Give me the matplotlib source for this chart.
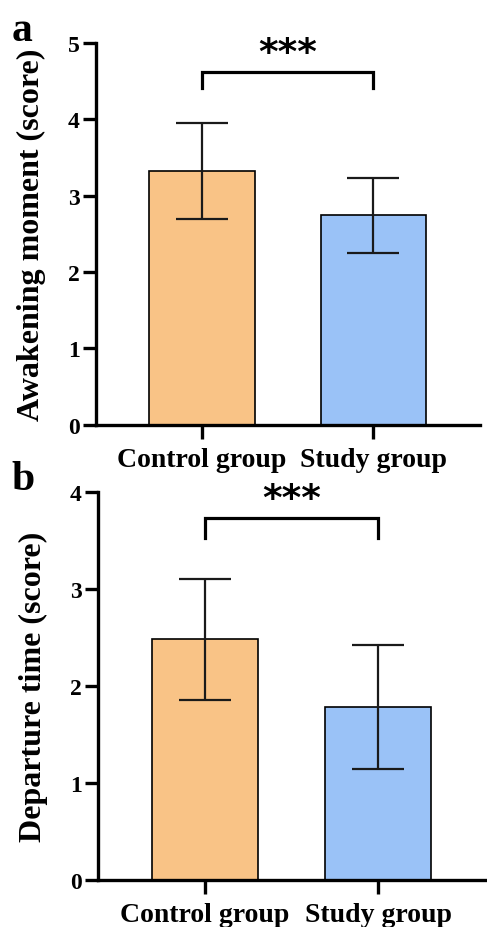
import numpy as np
import matplotlib
matplotlib.use("Agg")
import matplotlib.pyplot as plt

plt.rcParams['font.family'] = ['Liberation Serif', 'DejaVu Serif']
plt.rcParams['font.weight'] = 'bold'

groups = ["Control group", "Study group"]
colors = ["#F9C386", "#9AC2F7"]

# panel a: awakening moment
awake_mean = [3.32, 2.74]
awake_sd = [0.63, 0.49]
# panel b: departure time
depart_mean = [2.48, 1.78]
depart_sd = [0.62, 0.64]

fig = plt.figure(figsize=(4.87, 9.28), dpi=100)


def panel(rect, means, sds, ylim, ylabel, letter, bracket_y, bracket_drop, star_y, xr):
    ax = fig.add_axes(rect)
    x = np.arange(len(groups))
    ax.bar(x, means, width=0.614, color=colors, edgecolor="black", linewidth=1.2, zorder=2)
    ax.errorbar(x, means, yerr=sds, fmt="none", ecolor="#1a1a1a", elinewidth=1.6,
                capsize=19, capthick=1.6, zorder=3)
    ax.set_xlim(-0.62, xr)
    ax.set_ylim(0, ylim)
    ax.set_yticks(np.arange(0, ylim + 1))
    ax.set_xticks(x)
    ax.set_xticklabels(groups, fontsize=20, fontweight="bold")
    ax.tick_params(axis="y", labelsize=17, width=2.4, length=9.5, pad=2)
    ax.tick_params(axis="x", width=2.4, length=10, pad=6)
    for lab in ax.get_yticklabels():
        lab.set_fontweight("bold")
    ax.spines["top"].set_visible(False)
    ax.spines["right"].set_visible(False)
    ax.spines["left"].set_linewidth(2.4)
    ax.spines["bottom"].set_linewidth(2.4)
    ax.set_ylabel(ylabel, fontsize=23, fontweight="bold", labelpad=16)
    # significance bracket
    ax.plot([0, 0, 1, 1], [bracket_y - bracket_drop, bracket_y, bracket_y, bracket_y - bracket_drop],
            color="black", linewidth=2.3, clip_on=False, solid_joinstyle="miter")
    ax.text(0.5, star_y, "***", ha="center", va="center", fontsize=27,
            fontweight="bold", family="DejaVu Sans")
    fig.text(0.024, rect[1] + rect[3] + 0.014, letter, fontsize=30, fontweight="bold",
             ha="left", va="center")
    return ax


panel([0.197, 0.541, 0.789, 0.412], awake_mean, awake_sd, 5,
      "Awakening moment (score)", "a", 4.62, 0.22, 4.86, 1.626)
panel([0.201, 0.051, 0.799, 0.4175], depart_mean, depart_sd, 4,
      "Departure time (score)", "b", 3.73, 0.2, 3.93, 1.63)

fig.savefig("out.png", dpi=100)
